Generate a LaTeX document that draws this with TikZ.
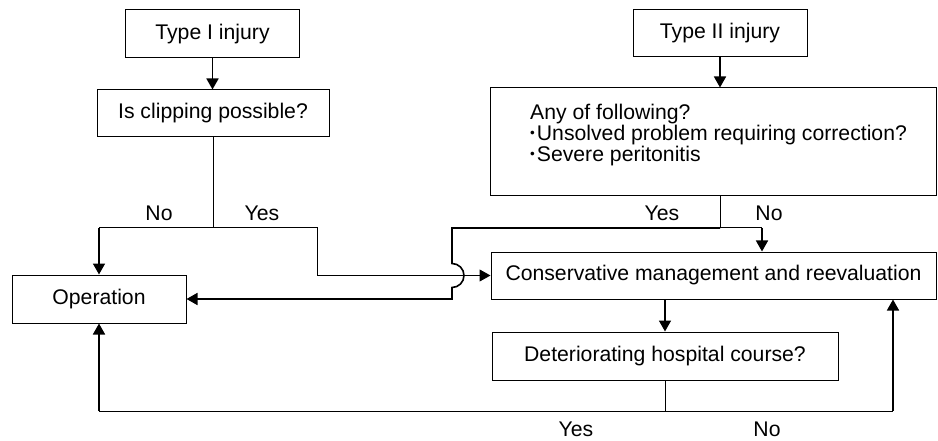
\documentclass[tikz,border=0pt]{standalone}
\usepackage{fontspec}
\setmainfont{Liberation Sans}
\usetikzlibrary{arrows.meta}
\newcommand{\dotitem}{\raisebox{3.2pt}{\fontsize{13.5}{13.5}\selectfont •}\hspace{2pt}}

\begin{document}
\begin{tikzpicture}[x=1pt,y=-1pt,
    every node/.style={font=\fontsize{21.2}{21}\selectfont},
    box/.style={draw,line width=1pt,minimum height=48pt,inner sep=0pt},
    link/.style={line width=1pt},
    arr/.style={line width=1.6pt,-{Triangle[length=11pt,width=12pt]}},
    thinarr/.style={line width=1pt,-{Triangle[length=11pt,width=12pt]}}]
    \useasboundingbox (0,0) rectangle (938,441);
    % boxes
    \node[box,minimum width=174pt] (tone) at (212.5,34) {Type I injury};
    \node[box,minimum width=232pt,minimum height=47pt] (clip) at (213,113.5) {Is clipping possible?};
    \node[box,minimum width=174pt,minimum height=47pt] (ttwo) at (720,33.5) {Type II injury};
    \node[box,minimum width=446pt,minimum height=108pt] (any) at (713,142) {};
    \node[anchor=west,align=left,inner sep=0pt] (anytxt) at (530,135)
        {Any of following?\\\dotitem Unsolved problem requiring correction?\\\dotitem Severe peritonitis};
    \node[box,minimum width=445pt,minimum height=47pt] (cons) at (713.5,275.5) {Conservative management and reevaluation};
    \node[box,minimum width=174pt] (op) at (99,299) {Operation};
    \node[box,minimum width=346pt] (det) at (665,356) {Deteriorating hospital course?};
    \coordinate (ja) at (213,228);
    \coordinate (jb) at (720,228);
    \coordinate (jc) at (665,411);
    \coordinate (nob) at (762,228);
    \coordinate (noc) at (893,411);
    % type I
    \draw[arr] (tone.south) -- (tone.south |- clip.north);
    \draw[link] (clip.south) -- (ja) -- (ja -| op);
    \draw[arr] (ja -| op) -- (op);
    \draw[thinarr] (ja) -| (317,275.5) -- (cons.west);
    % type II
    \draw[arr] (ttwo.south) -- (ttwo.south |- any.north);
    \draw[link] (any.south -| jb) -- (jb) -- (nob);
    \draw[arr] (nob) -- (nob |- cons.north);
    \draw[arr] (jb) -- (452,228) -- (452,263.5)
        arc[start angle=-90,end angle=90,radius=12] -- (452,299) -- (op.east);   % jump over
    % reevaluation
    \draw[arr] (cons.south -| det) -- (det);
    \draw[link] (det.south) -- (jc) -- (jc -| op);
    \draw[arr] (jc -| op) -- (op);
    \draw[link] (jc) -- (noc);
    \draw[arr] (noc) -- (noc |- cons.south);
    % labels
    \node (noa) at (159,213) {No};
    \node (yesa) at (262,213) {Yes};
    \node (yesb) at (662,213) {Yes};
    \node (nob) at (769,213) {No};
    \node (yesc) at (576,429) {Yes};
    \node (noc) at (767,429) {No};
\end{tikzpicture}
\end{document}
